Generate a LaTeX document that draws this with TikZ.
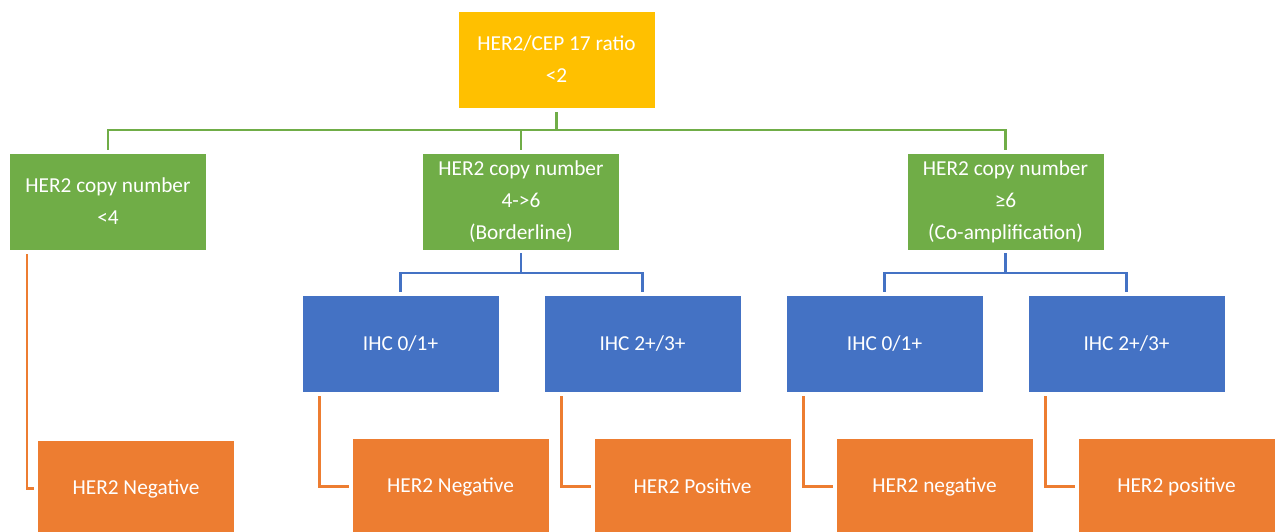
\documentclass[tikz,border=0pt]{standalone}
\usepackage{fontspec}
\setmainfont{Carlito}
\definecolor{cgold}{HTML}{FFC000}
\definecolor{cgreen}{HTML}{70AD47}
\definecolor{cblue}{HTML}{4472C4}
\definecolor{corange}{HTML}{ED7D31}
\tikzset{
  box/.style={rectangle, draw=white, line width=0.8pt, text=white, align=center,
    minimum width=197pt, minimum height=97pt, inner sep=0pt,
    font=\fontsize{21.3}{32}\selectfont},
  goldbox/.style={box, fill=cgold},
  greenbox/.style={box, fill=cgreen},
  bluebox/.style={box, fill=cblue},
  orangebox/.style={box, fill=corange},
  gline/.style={draw=cgreen, line width=2.4pt},
  bline/.style={draw=cblue, line width=2.4pt},
  oline/.style={draw=corange, line width=2.4pt},
}
\begin{document}
\begin{tikzpicture}[x=1pt,y=-1pt]
\clip (0,0) rectangle (1277,531);
\fill[white] (0,0) rectangle (1277,531);
% boxes
\node[goldbox] (top) at (556.5,59.5) {HER2/CEP 17 ratio\\<2};
\node[greenbox] (g1) at (108,201.5) {HER2 copy number\\<4};
\node[greenbox] (g2) at (521,201.5) {HER2 copy number\\4->6\\(Borderline)};
\node[greenbox] (g3) at (1005.5,201.5) {HER2 copy number\\≥6\\(Co-amplification)};
\node[bluebox] (b1) at (400.5,343.5) {IHC 0/1+};
\node[bluebox] (b2) at (642.5,343.5) {IHC 2+/3+};
\node[bluebox] (b3) at (884.5,343.5) {IHC 0/1+};
\node[bluebox] (b4) at (1126.5,343.5) {IHC 2+/3+};
\node[orangebox] (o0) at (136,488.5) {HER2 Negative};
\node[orangebox] (o1) at (450.5,486.5) {HER2 Negative};
\node[orangebox] (o2) at (692.5,486.5) {HER2 Positive};
\node[orangebox] (o3) at (934.5,486.5) {HER2 negative};
\node[orangebox] (o4) at (1176.5,486.5) {HER2 positive};
% bars
\coordinate (gbar) at (0,130);
\coordinate (bbar) at (0,273);
% green connectors
\draw[gline] ([yshift=-4pt]top.south) -- (top.south |- gbar);
\draw[gline] ([yshift=3pt]g1.north) -- (g1.north |- gbar) -- (g3.north |- gbar) -- ([yshift=3pt]g3.north);
\draw[gline] ([yshift=3pt]g2.north) -- (g2.north |- gbar);
% blue connectors
\draw[bline] ([yshift=-3pt]g2.south) -- (g2.south |- bbar);
\draw[bline] ([yshift=3pt]b1.north) -- (b1.north |- bbar) -- (b2.north |- bbar) -- ([yshift=3pt]b2.north);
\draw[bline] ([yshift=-3pt]g3.south) -- (g3.south |- bbar);
\draw[bline] ([yshift=3pt]b3.north) -- (b3.north |- bbar) -- (b4.north |- bbar) -- ([yshift=3pt]b4.north);
% orange connectors
\draw[oline] ([xshift=18pt,yshift=-4pt]g1.south west) |- ([xshift=-3pt]o0.west);
\draw[oline] ([xshift=18pt,yshift=-4pt]b1.south west) |- ([xshift=-3pt]o1.west);
\draw[oline] ([xshift=18pt,yshift=-4pt]b2.south west) |- ([xshift=-3pt]o2.west);
\draw[oline] ([xshift=18pt,yshift=-4pt]b3.south west) |- ([xshift=-3pt]o3.west);
\draw[oline] ([xshift=18pt,yshift=-4pt]b4.south west) |- ([xshift=-3pt]o4.west);
\end{tikzpicture}
\end{document}
